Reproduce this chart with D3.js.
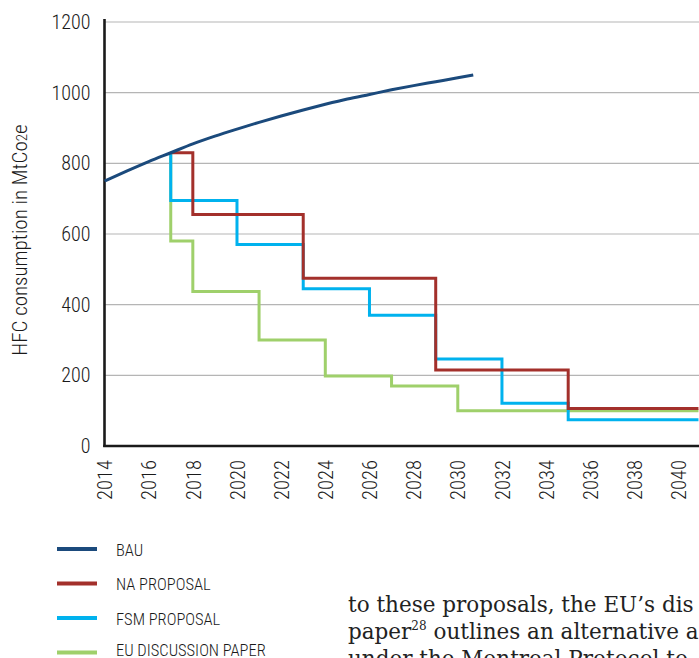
<!DOCTYPE html>
<html>
<head>
<meta charset="utf-8">
<script src="https://cdn.jsdelivr.net/npm/d3@7"></script>
<style>
  html, body { margin: 0; padding: 0; background: #fff; overflow: hidden; }
  .cond { font-family: Roboto, "Liberation Sans Narrow", sans-serif; font-stretch: 75%; font-weight: 300; }
  .semi { font-family: Roboto, sans-serif; font-stretch: 87.5%; font-weight: 300; }
</style>
</head>
<body>
<svg id="chart" width="699" height="658"></svg>
<script>
// ---- data ----
const yTicks = [0, 200, 400, 600, 800, 1000, 1200];
const xTicks = [2014, 2016, 2018, 2020, 2022, 2024, 2026, 2028, 2030, 2032, 2034, 2036, 2038, 2040];

const bauYears  = [2014, 2015, 2016, 2017, 2018, 2019, 2020, 2021, 2022, 2023, 2024, 2025, 2026, 2027, 2028, 2029, 2030, 2030.7];
const bauValues = [750, 778, 805, 830, 855, 877, 897, 916, 934, 951, 967, 982, 995, 1008, 1020, 1031, 1042, 1050];

// step series: value holds from given year until the next year
const naYears  = [2017, 2018, 2023, 2029, 2035, 2040.9];
const naValues = [830, 655, 475, 215, 106, 106];

const fsmYears  = [2017, 2017, 2020, 2023, 2026, 2029, 2032, 2035, 2040.9];
const fsmValues = [830, 695, 570, 445, 370, 246, 121, 74, 74];

const euYears  = [2017, 2017, 2018, 2021, 2024, 2027, 2030, 2040.9];
const euValues = [830, 580, 437, 300, 198, 170, 100, 100];

const seriesNames = ["BAU", "NA PROPOSAL", "FSM PROPOSAL", "EU DISCUSSION PAPER"];
const seriesColors = ["#1b4a7c", "#a3302b", "#00b2ee", "#9fd06b"];

const bodyLines = ["to these proposals, the EU\u2019s dis", "paper", "under the Montreal Protocol to"];

// ---- layout ----
const svg = d3.select("#chart");
const x = d3.scaleLinear().domain([2014, 2040]).range([104.5, 678.6]);
const y = d3.scaleLinear().domain([0, 1200]).range([446, 22]);
const xRight = 699;

// gridlines
svg.append("g").selectAll("line").data(yTicks.filter(d => d > 0)).join("line")
  .attr("x1", x(2014)).attr("x2", xRight)
  .attr("y1", d => y(d)).attr("y2", d => y(d))
  .attr("stroke", "#b5b5b5").attr("stroke-width", 1.2);

// y axis
const yAxis = svg.append("g").attr("transform", `translate(${x(2014)},0)`)
  .call(d3.axisLeft(y).tickValues(yTicks).tickFormat(d3.format("d")).tickSize(0).tickPadding(14));
yAxis.select(".domain").remove();
yAxis.selectAll("text").attr("class", "cond").attr("font-size", 20).attr("fill", "#1a1a1a");

// x axis labels
const xAxis = svg.append("g").attr("transform", `translate(0,446)`)
  .call(d3.axisBottom(x).tickValues(xTicks).tickFormat(d3.format("d")).tickSize(0));
xAxis.select(".domain").remove();
xAxis.selectAll("text")
  .attr("class", "semi").attr("font-size", 20.5).attr("fill", "#1a1a1a")
  .attr("transform", "rotate(-90)")
  .attr("text-anchor", "end")
  .attr("x", -14).attr("y", 0).attr("dy", "0.35em");

// axis lines
svg.append("line").attr("x1", x(2014)).attr("x2", x(2014)).attr("y1", 19).attr("y2", 447)
  .attr("stroke", "#1a1a1a").attr("stroke-width", 2.6);
svg.append("line").attr("x1", x(2014) - 1.3).attr("x2", xRight).attr("y1", 446).attr("y2", 446)
  .attr("stroke", "#1a1a1a").attr("stroke-width", 2.6);

// y title
const yt = svg.append("text").attr("class", "cond")
  .attr("transform", `translate(27,240) rotate(-90)`)
  .attr("text-anchor", "middle").attr("font-size", 21).attr("fill", "#1a1a1a");
yt.append("tspan").text("HFC consumption in MtCo");
yt.append("tspan").attr("font-size", 15).text("2");
yt.append("tspan").text("e");

// lines
const stepLine = d3.line().x(d => x(d[0])).y(d => y(d[1])).curve(d3.curveStepAfter);
const smooth = d3.line().x(d => x(d[0])).y(d => y(d[1])).curve(d3.curveMonotoneX);

const zip = (a, b) => a.map((v, i) => [v, b[i]]);

svg.append("path").datum(zip(euYears, euValues)).attr("d", stepLine)
  .attr("fill", "none").attr("stroke", seriesColors[3]).attr("stroke-width", 3);
svg.append("path").datum(zip(fsmYears, fsmValues)).attr("d", stepLine)
  .attr("fill", "none").attr("stroke", seriesColors[2]).attr("stroke-width", 3);
svg.append("path").datum(zip(naYears, naValues)).attr("d", stepLine)
  .attr("fill", "none").attr("stroke", seriesColors[1]).attr("stroke-width", 3);
svg.append("path").datum(zip(bauYears, bauValues)).attr("d", smooth)
  .attr("fill", "none").attr("stroke", seriesColors[0]).attr("stroke-width", 3);

// legend
const lg = svg.append("g");
seriesNames.forEach((name, i) => {
  const yy = 549 + i * 34.5;
  lg.append("line").attr("x1", 57).attr("x2", 97).attr("y1", yy).attr("y2", yy)
    .attr("stroke", seriesColors[i]).attr("stroke-width", 4);
  lg.append("text").attr("class", "cond").attr("x", 116).attr("y", Math.min(yy + 6.5, 656))
    .attr("font-size", 16.5).attr("fill", "#1a1a1a").text(name);
});

// body text
const bt = svg.append("g").attr("font-family", "'DejaVu Serif', 'Liberation Serif', serif")
  .attr("font-size", 21.5).attr("fill", "#222");
bt.append("text").attr("x", 348).attr("y", 612).text(bodyLines[0]);
const l2 = bt.append("text").attr("x", 348).attr("y", 639);
l2.append("tspan").text(bodyLines[1]);
l2.append("tspan").attr("font-size", 12).attr("dy", -9).text("28");
l2.append("tspan").attr("dy", 9).text(" outlines an alternative a");
bt.append("text").attr("x", 348).attr("y", 666).text(bodyLines[2]);
</script>
</body>
</html>
